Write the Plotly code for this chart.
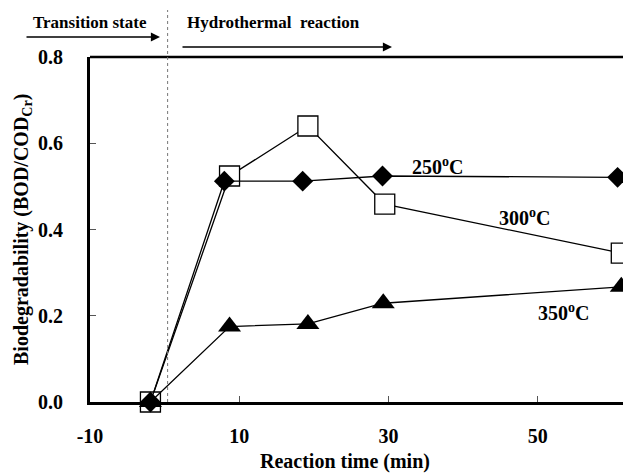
import plotly.graph_objects as go

# Data
time_250 = [-1.9, 8.0, 18.5, 29.2, 60.7]
bio_250 = [0.0, 0.512, 0.512, 0.524, 0.521]
time_300 = [-1.9, 8.7, 19.2, 29.5, 61.2]
bio_300 = [0.0, 0.524, 0.640, 0.459, 0.345]
time_350 = [-1.9, 8.7, 19.2, 29.3, 61.2]
bio_350 = [0.0, 0.175, 0.181, 0.229, 0.267]

x_ticks = [-10, 10, 30, 50]
y_ticks = [0.0, 0.2, 0.4, 0.6, 0.8]
boundary_time = 0.4

FONT = "Liberation Serif, Times New Roman, serif"

fig = go.Figure()
fig.add_trace(go.Scatter(x=time_300, y=bio_300, mode="lines+markers",
                         line=dict(color="black", width=1.3),
                         marker=dict(symbol="square", size=20, color="white",
                                     line=dict(color="black", width=1.3)),
                         cliponaxis=False, name="300"))
fig.add_trace(go.Scatter(x=time_250, y=bio_250, mode="lines+markers",
                         line=dict(color="black", width=1.3),
                         marker=dict(symbol="diamond", size=16, color="black"),
                         cliponaxis=False, name="250"))
fig.add_trace(go.Scatter(x=time_350, y=bio_350, mode="lines+markers",
                         line=dict(color="black", width=1.3),
                         marker=dict(symbol="triangle-up", size=20, color="black"),
                         cliponaxis=False, name="350"))

OFF = 8  # page body margin
W, H = 631 - OFF, 473 - OFF
L = 90 - OFF
T = 57 - OFF
B = 473 - 402
pw = W - L
ph = H - T - B


def px(x):
    return (x - OFF - L) / pw


def py(y):
    return (H - B - (y - OFF)) / ph


fig.add_shape(type="line", xref="paper", yref="paper", x0=0, x1=1, y0=1, y1=1,
              line=dict(color="black", width=2.5))
fig.add_shape(type="line", xref="x", yref="paper", x0=boundary_time, x1=boundary_time,
              y0=0, y1=py(10), line=dict(color="#777777", width=1, dash="dot"))

C = dict(xanchor="center", yanchor="middle", xref="paper", yref="paper")
anns = []
anns.append(dict(text="Transition state", x=px(90), y=py(22), showarrow=False,
                 font=dict(family=FONT, size=17, color="black", weight="bold"), **C))
anns.append(dict(text="Hydrothermal&nbsp; reaction", x=px(273), y=py(22), showarrow=False,
                 font=dict(family=FONT, size=17, color="black", weight="bold"), **C))
anns.append(dict(text="", x=px(160), y=py(37), ax=25 - 160, ay=0,
                 axref="pixel", ayref="pixel", showarrow=True, arrowhead=2, arrowsize=1.4,
                 arrowwidth=1.3, arrowcolor="black", **C))
anns.append(dict(text="", x=px(392), y=py(47), ax=181 - 392, ay=0,
                 axref="pixel", ayref="pixel", showarrow=True, arrowhead=2, arrowsize=1.4,
                 arrowwidth=1.3, arrowcolor="black", **C))
anns.append(dict(text="Reaction time (min)", x=px(345), y=py(462), showarrow=False,
                 font=dict(family=FONT, size=20, color="black", weight="bold"), **C))
anns.append(dict(text="Biodegradability (BOD/COD<sub>Cr</sub>)", x=px(23), y=py(230),
                 textangle=-90, showarrow=False,
                 font=dict(family=FONT, size=20, color="black", weight="bold"), **C))
for label, xx, yy in [("250<sup>o</sup>C", 36.6, 0.548), ("300<sup>o</sup>C", 48.2, 0.429),
                      ("350<sup>o</sup>C", 53.5, 0.209)]:
    anns.append(dict(text=label, x=xx, y=yy, xref="x", yref="y", showarrow=False,
                     xanchor="center", yanchor="middle",
                     font=dict(family=FONT, size=20, color="black", weight="bold")))

fig.update_layout(
    width=W, height=H,
    margin=dict(l=L, r=0, t=T, b=B, pad=0),
    plot_bgcolor="white", paper_bgcolor="white",
    showlegend=False,
    annotations=anns,
    font=dict(family=FONT, color="black"),
)
fig.update_xaxes(range=[-10, 62.5], tickvals=x_ticks, ticktext=[str(v) for v in x_ticks],
                 showgrid=False, zeroline=False, showline=True, linecolor="black", linewidth=3,
                 ticks="inside", ticklen=6, tickwidth=1, tickcolor="#555555",
                 ticklabelstandoff=14,
                 tickfont=dict(family=FONT, size=20, color="black", weight="bold"))
fig.update_yaxes(range=[0, 0.8], tickvals=y_ticks, ticktext=[f"{v:.1f}" for v in y_ticks],
                 showgrid=False, zeroline=False, showline=True, linecolor="black", linewidth=3,
                 ticks="inside", ticklen=6, tickwidth=1, tickcolor="#555555",
                 ticklabelstandoff=20,
                 tickfont=dict(family=FONT, size=20, color="black", weight="bold"))

fig.write_html("out.html")
